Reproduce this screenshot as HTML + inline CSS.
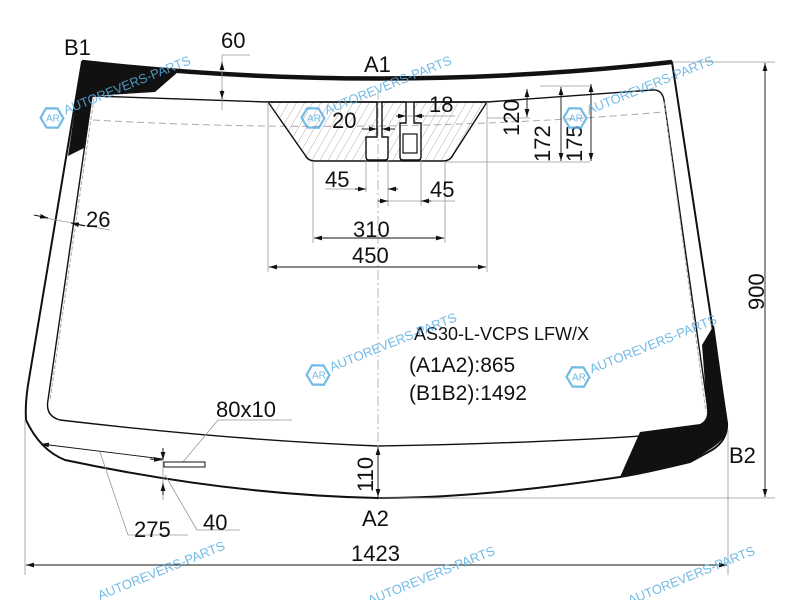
<!DOCTYPE html>
<html><head><meta charset="utf-8"><style>
html,body{margin:0;padding:0;background:#fff;width:800px;height:600px;overflow:hidden}
svg{display:block}
text{font-family:"Liberation Sans",sans-serif;fill:#111}
.wm{fill:#5aaee0;font-size:13px}
</style></head><body>
<svg width="800" height="600" viewBox="0 0 800 600" xmlns="http://www.w3.org/2000/svg">
<defs>
<marker id="a" viewBox="0 0 10 6" refX="10" refY="3" markerWidth="8" markerHeight="5" orient="auto-start-reverse" markerUnits="userSpaceOnUse"><path d="M0,0L10,3L0,6z" fill="#111"/></marker>
<pattern id="h" width="7" height="7" patternUnits="userSpaceOnUse" patternTransform="rotate(30)"><line x1="0" y1="0" x2="0" y2="7" stroke="#999" stroke-width="0.8"/></pattern>
<g id="logo"><polygon points="0,-11 10,-5.5 10,5.5 0,11 -10,5.5 -10,-5.5" fill="none" stroke="#5aaee0" stroke-width="2.2" transform="rotate(30)"/><text x="-6" y="3.5" font-size="10" style="fill:#5aaee0">AR</text></g>
</defs>

<path d="M82,62 L178,72 L155,92 L92,96 L84,148 L68,156 Z" fill="#111"/>
<path d="M714,325 L728,425 Q727,438 712,448 L690,462 L620,477 L640,432 L700,424 Q708,420 707,410 L702,345 Z" fill="#111"/>

<path d="M82,62 Q378,95 672,62 L727,423 Q728,440 712,450 L690,462 Q640,474 620,477 Q480,498 378,498 Q230,495 65,460 Q40,450 26,420 Q25,405 28,385 L82,62 Z" fill="none" stroke="#111" stroke-width="2"/>
<path d="M82,62 Q378,95 672,62" fill="none" stroke="#111" stroke-width="4.5"/>

<path d="M92,96 Q200,100 268,102 L487,102 Q580,95 652,90 Q662,89 664,100 L708,410 Q710,428 695,432 Q560,443 378,446 Q230,440 60,420 Q45,416 48,400 L92,96 Z" fill="none" stroke="#111" stroke-width="1.4"/>
<path d="M94,98 L50,400 M664,102 L706,412" fill="none" stroke="#aaa" stroke-width="1" stroke-dasharray="4,2"/>
<path d="M93,120 Q378,136 664,112" fill="none" stroke="#aaa" stroke-width="1" stroke-dasharray="7,4"/>
<line x1="378" y1="90" x2="378" y2="500" stroke="#aaa" stroke-width="0.8" stroke-dasharray="10,3,2,3"/>

<path d="M268,102 L377,102 L377,137 L366,137 L366,157 Q366,160 369,160 L385,160 Q388,160 388,157 L388,137 L382,137 L382,102 L406,102 L406,123 L400,123 L400,157 Q400,160 403,160 L418,160 Q421,160 421,157 L421,123 L414,123 L414,102 L487,102 L453,155 Q450,161 443,161 L315,161 Q308,161 305,155 Z" fill="url(#h)" stroke="#111" stroke-width="1.4"/>
<rect x="403" y="134" width="14" height="19" fill="#fff" stroke="#111" stroke-width="1.2"/>

<g stroke="#999" stroke-width="0.8" fill="none">
<line x1="268" y1="102" x2="268" y2="272"/><line x1="487" y1="102" x2="487" y2="272"/>
<line x1="313" y1="161" x2="313" y2="243"/><line x1="445" y1="161" x2="445" y2="243"/>
<line x1="366" y1="160" x2="366" y2="192"/><line x1="388" y1="160" x2="388" y2="206"/><line x1="421" y1="160" x2="421" y2="206"/>
<line x1="445" y1="162" x2="590" y2="162"/><line x1="487" y1="118" x2="530" y2="118"/><line x1="540" y1="86" x2="590" y2="86"/>
<line x1="672" y1="62" x2="775" y2="62"/><line x1="378" y1="498" x2="775" y2="498"/>
<line x1="25" y1="420" x2="25" y2="575"/><line x1="728" y1="430" x2="728" y2="575"/>
<line x1="222" y1="55" x2="222" y2="110"/><line x1="222" y1="55" x2="250" y2="55"/>
<line x1="40" y1="217" x2="110" y2="230"/>
<line x1="100" y1="452" x2="128" y2="535"/><line x1="128" y1="535" x2="188" y2="535"/>
<line x1="163" y1="448" x2="163" y2="500"/>
<line x1="165" y1="475" x2="197" y2="530"/><line x1="197" y1="530" x2="240" y2="530"/>
<line x1="183" y1="462" x2="218" y2="420"/><line x1="218" y1="420" x2="292" y2="420"/>
<line x1="325" y1="189" x2="366" y2="189"/><line x1="388" y1="201" x2="455" y2="201"/>
<line x1="405" y1="116" x2="455" y2="116"/>
</g>
<g stroke="#111" stroke-width="0.9" fill="none">
<line x1="269" y1="267" x2="486" y2="267" marker-start="url(#a)" marker-end="url(#a)"/>
<line x1="314" y1="238" x2="444" y2="238" marker-start="url(#a)" marker-end="url(#a)"/>
<line x1="355" y1="189" x2="366" y2="189" marker-end="url(#a)"/><line x1="398" y1="189" x2="388" y2="189" marker-end="url(#a)"/>
<line x1="378" y1="201" x2="388" y2="201" marker-end="url(#a)"/><line x1="431" y1="201" x2="421" y2="201" marker-end="url(#a)"/>
<line x1="362" y1="129" x2="377" y2="129" marker-end="url(#a)"/><line x1="395" y1="129" x2="382" y2="129" marker-end="url(#a)"/>
<line x1="396" y1="116" x2="406" y2="116" marker-end="url(#a)"/><line x1="424" y1="116" x2="414" y2="116" marker-end="url(#a)"/>
<line x1="527" y1="89" x2="527" y2="117" marker-start="url(#a)" marker-end="url(#a)"/>
<line x1="561" y1="87" x2="561" y2="161" marker-start="url(#a)" marker-end="url(#a)"/>
<line x1="591" y1="84" x2="591" y2="161" marker-start="url(#a)" marker-end="url(#a)"/>
<line x1="765" y1="63" x2="765" y2="497" marker-start="url(#a)" marker-end="url(#a)"/>
<line x1="26" y1="565" x2="727" y2="565" marker-start="url(#a)" marker-end="url(#a)"/>
<line x1="378" y1="447" x2="378" y2="497" marker-start="url(#a)" marker-end="url(#a)"/>
<line x1="222" y1="62" x2="222" y2="70" marker-start="url(#a)"/><line x1="222" y1="90" x2="222" y2="99" marker-end="url(#a)"/>
<line x1="34" y1="215" x2="48" y2="218" marker-end="url(#a)"/><line x1="85" y1="226" x2="71" y2="223" marker-end="url(#a)"/>
<line x1="41" y1="444" x2="163" y2="459" marker-start="url(#a)"/><line x1="150" y1="459" x2="162" y2="460" marker-end="url(#a)"/>
<line x1="163" y1="448" x2="163" y2="460" marker-end="url(#a)"/><line x1="163" y1="495" x2="163" y2="483" marker-end="url(#a)"/>
</g>
<rect x="164" y="462" width="41" height="5" fill="#fff" stroke="#111" stroke-width="1"/>

<g font-size="22">
<text x="64" y="55">B1</text>
<text x="221" y="48">60</text>
<text x="364" y="72">A1</text>
<text x="429" y="112">18</text>
<text x="332" y="128">20</text>
<text x="325" y="187">45</text>
<text x="430" y="197">45</text>
<text x="353" y="237">310</text>
<text x="352" y="263">450</text>
<text x="86" y="227">26</text>
<text x="216" y="417">80x10</text>
<text x="729" y="463">B2</text>
<text x="362" y="526">A2</text>
<text x="134" y="537">275</text>
<text x="203" y="530">40</text>
<text x="351" y="561">1423</text>
<text transform="translate(519,136) rotate(-90)">120</text>
<text transform="translate(550,162) rotate(-90)">172</text>
<text transform="translate(582,162) rotate(-90)">175</text>
<text transform="translate(764,310) rotate(-90)">900</text>
<text transform="translate(373,492) rotate(-90)">110</text>
</g>
<text x="414" y="340" font-size="18">AS30-L-VCPS LFW/X</text>
<text x="409" y="372" font-size="21">(A1A2):865</text>
<text x="409" y="400" font-size="21">(B1B2):1492</text>

<g opacity="0.85">
<g transform="translate(52,118)"><use href="#logo"/><text class="wm" x="14" y="2" transform="rotate(-22)">AUTOREVERS-PARTS</text></g>
<g transform="translate(313,118)"><use href="#logo"/><text class="wm" x="14" y="2" transform="rotate(-22)">AUTOREVERS-PARTS</text></g>
<g transform="translate(575,118)"><use href="#logo"/><text class="wm" x="14" y="2" transform="rotate(-22)">AUTOREVERS-PARTS</text></g>
<g transform="translate(318,375)"><use href="#logo"/><text class="wm" x="14" y="2" transform="rotate(-22)">AUTOREVERS-PARTS</text></g>
<g transform="translate(578,377)"><use href="#logo"/><text class="wm" x="14" y="2" transform="rotate(-22)">AUTOREVERS-PARTS</text></g>
<text class="wm" x="100" y="600" transform="rotate(-22 100 600)">AUTOREVERS-PARTS</text>
<text class="wm" x="370" y="605" transform="rotate(-22 370 605)">AUTOREVERS-PARTS</text>
<text class="wm" x="630" y="605" transform="rotate(-22 630 605)">AUTOREVERS-PARTS</text>
</g>
</svg>
</body></html>
